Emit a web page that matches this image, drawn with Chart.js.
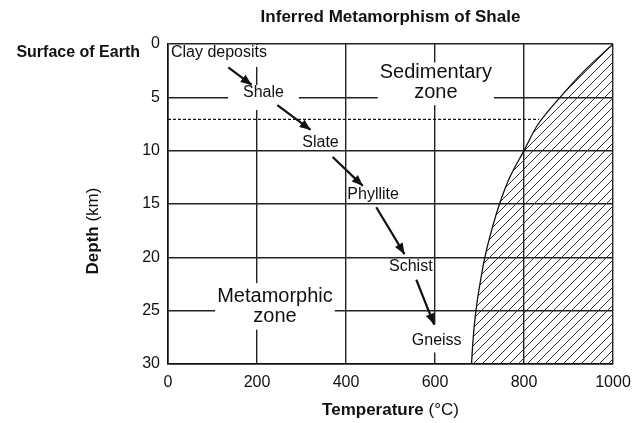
<!DOCTYPE html>
<html>
<head>
<meta charset="utf-8">
<script src="https://cdn.jsdelivr.net/npm/chart.js@4.4.0/dist/chart.umd.min.js"></script>
<style>
html, body { margin: 0; padding: 0; background: #fff; }
#wrap { width: 640px; height: 423px; }
</style>
</head>
<body>
<div id="wrap"><canvas id="canvas"></canvas></div>
<script>
// Boundary of the hatched (melting) region, temperature vs depth.
const curveTemps = [1000, 936, 881, 832, 800, 768, 745, 727, 712, 701, 692, 686, 682]
const curveDepths = [0, 2.5, 5, 7.5, 10, 12.5, 15, 17.5, 20, 22.5, 25, 27.5, 30]

// Dotted line between the sedimentary and metamorphic zones.
const dashTemps = [0, 834]
const dashDepths = [7.06, 7.06]

// Rock names and where they sit.
const rockNames = ['Clay deposits', 'Shale', 'Slate', 'Phyllite', 'Schist', 'Gneiss']
const rockTemps = [114.6, 214.6, 342.7, 461, 545.7, 603.8]
const rockDepths = [0.84, 4.59, 9.25, 14.16, 20.9, 27.8]

// Zone captions.
const zoneNames = [['Sedimentary', 'zone'], ['Metamorphic', 'zone']]
const zoneTemps = [602, 240.4]
const zoneDepths = [3.64, 24.6]

// Arrows between rocks: [temperature, depth] of tail and tip.
const arrowTails = [[135.5, 2.19], [245.7, 5.72], [370, 10.6], [468, 15.3], [558, 22.1]]
const arrowTips = [[188, 3.84], [320.6, 8.06], [437.7, 13.3], [531.5, 19.7], [598, 26.3]]

const family = "'Liberation Sans', Arial, Helvetica, sans-serif"
const ink = '#111'

Chart.defaults.animation = false
Chart.defaults.font.family = family
Chart.defaults.font.size = 16
Chart.defaults.color = ink

// White boxes behind captions: [side, top, bottom] padding in px.
const notePad = {
    'Clay deposits': [2, 8, 6],
    'Shale': [15, 0, 9],
    'Gneiss': [2, 8, 4],
    'Sedimentary': [2, 0, 2],
    'Metamorphic': [2, 3, 3],
}

function makeHatch(ctx) {
    const c = document.createElement('canvas')
    c.width = 9
    c.height = 9
    const g = c.getContext('2d')
    g.strokeStyle = '#333'
    g.lineWidth = 1
    g.beginPath()
    g.moveTo(0, 9); g.lineTo(9, 0)
    g.moveTo(-1, 1); g.lineTo(1, -1)
    g.moveTo(8, 10); g.lineTo(10, 8)
    g.stroke()
    return ctx.createPattern(c, 'repeat')
}

function drawNote(ctx, lines, cx, cy, size, lh, pad) {
    ctx.font = `${size}px ${family}`
    const w = Math.max(...lines.map(l => ctx.measureText(l).width))
    const h = lh * lines.length
    const top = cy - h / 2
    if (pad) {
        ctx.fillStyle = '#fff'
        ctx.fillRect(cx - w / 2 - pad[0], top - pad[1], w + 2 * pad[0], h + pad[1] + pad[2])
    }
    ctx.fillStyle = ink
    lines.forEach((l, k) => ctx.fillText(l, cx, top + lh * (k + 0.5)))
}

function drawMixed(ctx, parts, cx, cy) {
    let total = 0
    const widths = parts.map(([t, f]) => {
        ctx.font = f
        const w = ctx.measureText(t).width
        total += w
        return w
    })
    let x = cx - total / 2
    ctx.textAlign = 'left'
    ctx.textBaseline = 'middle'
    parts.forEach(([t, f], i) => {
        ctx.font = f
        ctx.fillText(t, x, cy)
        x += widths[i]
    })
}

const notes = {
    id: 'notes',
    beforeDatasetsDraw(chart) {
        const { ctx, chartArea: a, scales: { x, y } } = chart
        ctx.save()
        ctx.beginPath()
        ctx.rect(a.left + 1, a.top + 1, a.width - 2, a.height - 2)
        ctx.clip()
        ctx.textAlign = 'center'
        ctx.textBaseline = 'middle'
        rockNames.forEach((name, i) => {
            drawNote(ctx, [name], x.getPixelForValue(rockTemps[i]), y.getPixelForValue(rockDepths[i]), 16, 16, notePad[name])
        })
        zoneNames.forEach((lines, i) => {
            drawNote(ctx, lines, x.getPixelForValue(zoneTemps[i]), y.getPixelForValue(zoneDepths[i]), 20, 20.3, notePad[lines[0]])
        })
        ctx.restore()
    },
    afterDatasetsDraw(chart) {
        const ctx = chart.ctx
        ctx.save()
        ctx.fillStyle = ink
        chart.data.datasets.forEach((ds, i) => {
            if (!ds.arrow) return
            const pts = chart.getDatasetMeta(i).data
            const p0 = pts[0], p1 = pts[1]
            const ang = Math.atan2(p1.y - p0.y, p1.x - p0.x)
            ctx.save()
            ctx.translate(p1.x, p1.y)
            ctx.rotate(ang)
            ctx.beginPath()
            ctx.moveTo(0, 0)
            ctx.lineTo(-11, -4.5)
            ctx.lineTo(-11, 4.5)
            ctx.closePath()
            ctx.fill()
            ctx.restore()
        })
        ctx.restore()
    },
    afterDraw(chart) {
        const { ctx, chartArea: a } = chart
        ctx.save()
        ctx.fillStyle = ink
        const cx = (a.left + a.right) / 2

        ctx.textAlign = 'center'
        ctx.textBaseline = 'middle'
        ctx.font = `bold 17px ${family}`
        ctx.fillText('Inferred Metamorphism of Shale', cx, 17)

        ctx.textAlign = 'right'
        ctx.font = `bold 16px ${family}`
        ctx.fillText('Surface of Earth', 140, 53)

        drawMixed(ctx, [['Temperature', `bold 17px ${family}`], [' (°C)', `17px ${family}`]], cx, 410)

        ctx.translate(93, 231)
        ctx.rotate(-Math.PI / 2)
        drawMixed(ctx, [['Depth', `bold 17px ${family}`], [' (km)', `17px ${family}`]], 0, 0)
        ctx.restore()
    },
}

window.addEventListener('DOMContentLoaded', () => {
    const canvas = document.querySelector('#canvas')
    const hatch = makeHatch(canvas.getContext('2d'))

    const toPoints = (xs, ys) => xs.map((v, i) => ({ x: v, y: ys[i] }))

    const datasets = [
        {
            data: toPoints(curveTemps, curveDepths),
            borderColor: ink,
            borderWidth: 1.3,
            backgroundColor: hatch,
            fill: { value: 1000 },
            cubicInterpolationMode: 'monotone',
        },
        {
            data: toPoints(dashTemps, dashDepths),
            borderColor: ink,
            borderWidth: 1.2,
            borderDash: [3, 2],
            fill: false,
        },
    ]

    arrowTails.forEach((tail, i) => {
        datasets.push({
            arrow: true,
            data: [{ x: tail[0], y: tail[1] }, { x: arrowTips[i][0], y: arrowTips[i][1] }],
            borderColor: ink,
            borderWidth: 2.2,
            fill: false,
        })
    })

    new Chart(canvas, {
        type: 'line',
        data: { datasets },
        plugins: [notes],
        options: {
            responsive: true,
            maintainAspectRatio: false,
            indexAxis: 'y',
            layout: { padding: { top: 44, right: 27, bottom: 0, left: 0 } },
            elements: { point: { radius: 0, hoverRadius: 0 } },
            plugins: { legend: { display: false }, tooltip: { enabled: false } },
            events: [],
            scales: {
                x: {
                    type: 'linear',
                    min: 0,
                    max: 1000,
                    ticks: { stepSize: 200, padding: 9, color: ink, callback: v => String(v) },
                    grid: { color: '#222', lineWidth: 1.4, drawTicks: false },
                    border: { color: ink, width: 1.6 },
                    afterFit: s => { s.height = 59 },
                },
                y: {
                    type: 'linear',
                    reverse: true,
                    min: 0,
                    max: 30,
                    ticks: { stepSize: 5, padding: 8, color: ink },
                    grid: { color: '#222', lineWidth: 1.4, drawTicks: false },
                    border: { color: ink, width: 1.6 },
                    afterFit: s => { s.width = 168 },
                },
            },
        },
    })
})
</script>
</body>
</html>
